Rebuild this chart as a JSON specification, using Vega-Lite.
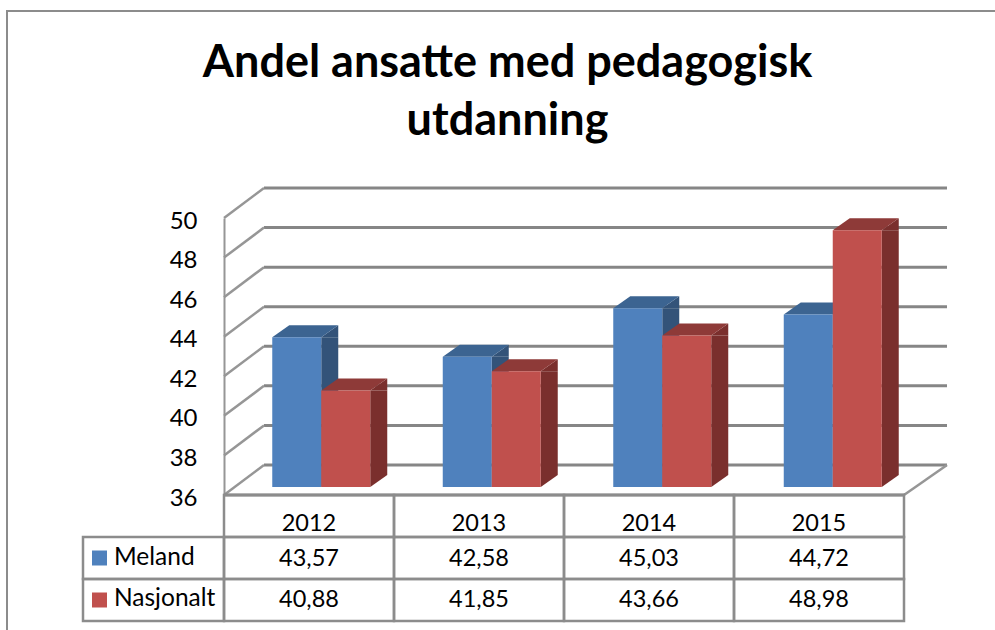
{
"$schema":"https://vega.github.io/schema/vega-lite/v6.json",
"width":995,"height":630,"padding":0,"autosize":{"type":"none"},
"background":"white",
"config":{"font":"Lato","view":{"stroke":null}},
"title":{"text":["Andel ansatte med pedagogisk","utdanning"],"font":"Lato","fontSize":45,"fontWeight":"bold","color":"black","anchor":"middle","dx":10,"offset":-180,"lineHeight":58,"baseline":"alphabetic"},
"datasets":{
"bars":[
{"year":"2012","series":"Meland","value":43.57},{"year":"2012","series":"Nasjonalt","value":40.88},
{"year":"2013","series":"Meland","value":42.58},{"year":"2013","series":"Nasjonalt","value":41.85},
{"year":"2014","series":"Meland","value":45.03},{"year":"2014","series":"Nasjonalt","value":43.66},
{"year":"2015","series":"Meland","value":44.72},{"year":"2015","series":"Nasjonalt","value":48.98}],
"ticks":[{"v":36},{"v":38},{"v":40},{"v":42},{"v":44},{"v":46},{"v":48},{"v":50}],
"cells":[
{"year":"2012","row":"Aar","label":"2012"},{"year":"2013","row":"Aar","label":"2013"},{"year":"2014","row":"Aar","label":"2014"},{"year":"2015","row":"Aar","label":"2015"},
{"year":"2012","row":"Meland","label":"43,57"},{"year":"2013","row":"Meland","label":"42,58"},{"year":"2014","row":"Meland","label":"45,03"},{"year":"2015","row":"Meland","label":"44,72"},
{"year":"2012","row":"Nasjonalt","label":"40,88"},{"year":"2013","row":"Nasjonalt","label":"41,85"},{"year":"2014","row":"Nasjonalt","label":"43,66"},{"year":"2015","row":"Nasjonalt","label":"48,98"}],
"rows":[{"row":"Meland"},{"row":"Nasjonalt"}],
"frame":[{"f":"ramme"}]
},
"layer":[
{"data":{"name":"frame"},"mark":{"type":"rect","fillOpacity":0,"stroke":"#8c8c8c","strokeWidth":2},
 "encoding":{"x":{"field":"f","type":"nominal","axis":null,"scale":{"type":"band","domain":["ramme"],"range":[7,1100],"paddingInner":0,"paddingOuter":0,"round":false}},
 "y":{"field":"f","type":"nominal","axis":null,"scale":{"type":"band","domain":["ramme"],"range":[11,700],"paddingInner":0,"paddingOuter":0,"round":false}}}},
{"data":{"name":"ticks"},"mark":{"type":"rule","color":"#868686","strokeWidth":3},
 "encoding":{"y":{"field":"v","type":"quantitative","axis":null,"scale":{"domain":[36,50],"range":[465,188],"nice":false,"zero":false}},
 "x":{"datum":0,"type":"quantitative","axis":null,"scale":{"domain":[0,1],"range":[264,947]}},"x2":{"datum":1}}},
{"data":{"name":"ticks"},"mark":{"type":"point","shape":"M0 0L40 -30","filled":false,"size":4,"opacity":1,"color":"#969696","strokeWidth":2.5},
 "encoding":{"y":{"field":"v","type":"quantitative","axis":null,"scale":{"domain":[36,50],"range":[495,218],"nice":false,"zero":false}},
 "x":{"datum":0,"type":"quantitative","axis":null,"scale":{"domain":[0,1],"range":[224,904]}}}},
{"data":{"name":"frame"},"mark":{"type":"point","shape":"M0 0L43 -30","filled":false,"size":4,"opacity":1,"color":"#969696","strokeWidth":2.5},
 "encoding":{"y":{"datum":36,"type":"quantitative","axis":null,"scale":{"domain":[36,50],"range":[495,218],"nice":false,"zero":false}},
 "x":{"datum":1,"type":"quantitative","axis":null,"scale":{"domain":[0,1],"range":[224,904]}}}},
{"data":{"name":"frame"},"mark":{"type":"rule","color":"#868686","strokeWidth":3},
 "encoding":{"y":{"datum":36,"type":"quantitative","axis":null,"scale":{"domain":[36,50],"range":[495,218],"nice":false,"zero":false}},
 "x":{"datum":0,"type":"quantitative","axis":null,"scale":{"domain":[0,1],"range":[224,905]}},"x2":{"datum":1}}},
{"data":{"name":"bars"},"mark":{"type":"bar","width":17,"y2Offset":-12,"opacity":1},
 "encoding":{"x":{"field":"year","type":"nominal","axis":null,"scale":{"type":"band","domain":["2012","2013","2014","2015"],"range":[236,918],"paddingInner":0,"paddingOuter":0,"round":false}},
 "xOffset":{"field":"series","type":"nominal","scale":{"domain":["Meland","Nasjonalt"],"range":[33,203.5],"paddingInner":0,"paddingOuter":0.74}},
 "y":{"field":"value","type":"quantitative","axis":null,"scale":{"domain":[36,50],"range":[487,210],"nice":false,"zero":false}},
 "y2":{"datum":36},
 "color":{"field":"series","type":"nominal","legend":null,"scale":{"domain":["Meland","Nasjonalt"],"range":["#335379","#7A2F2D"]}}}},
{"data":{"name":"bars"},"mark":{"type":"point","shape":"M24.5 0L41.5 0L41.5 -12Z","filled":true,"size":4,"opacity":1},
 "encoding":{"x":{"field":"year","type":"nominal","axis":null,"scale":{"type":"band","domain":["2012","2013","2014","2015"],"range":[236,918],"paddingInner":0,"paddingOuter":0,"round":false}},
 "xOffset":{"field":"series","type":"nominal","scale":{"type":"band","domain":["Meland","Nasjonalt"],"range":[0,170.5],"paddingInner":0,"paddingOuter":0.74}},
 "y":{"field":"value","type":"quantitative","axis":null,"scale":{"domain":[36,50],"range":[487,210],"nice":false,"zero":false}},
 "color":{"field":"series","type":"nominal","legend":null,"scale":{"domain":["Meland","Nasjonalt"],"range":["#335379","#7A2F2D"]}}}},
{"data":{"name":"bars"},"mark":{"type":"point","shape":"M24.5 -12L41.5 -12L24.5 0Z","filled":true,"size":4,"opacity":1},
 "encoding":{"x":{"field":"year","type":"nominal","axis":null,"scale":{"type":"band","domain":["2012","2013","2014","2015"],"range":[236,918],"paddingInner":0,"paddingOuter":0,"round":false}},
 "xOffset":{"field":"series","type":"nominal","scale":{"type":"band","domain":["Meland","Nasjonalt"],"range":[0,170.5],"paddingInner":0,"paddingOuter":0.74}},
 "y":{"datum":36,"type":"quantitative","axis":null,"scale":{"domain":[36,50],"range":[487,210],"nice":false,"zero":false}},
 "color":{"field":"series","type":"nominal","legend":null,"scale":{"domain":["Meland","Nasjonalt"],"range":["#335379","#7A2F2D"]}}}},
{"data":{"name":"bars"},"mark":{"type":"point","shape":"M-24.5 0L24.5 0L41.5 -12L-7.5 -12Z","filled":true,"size":4,"opacity":1},
 "encoding":{"x":{"field":"year","type":"nominal","axis":null,"scale":{"type":"band","domain":["2012","2013","2014","2015"],"range":[236,918],"paddingInner":0,"paddingOuter":0,"round":false}},
 "xOffset":{"field":"series","type":"nominal","scale":{"type":"band","domain":["Meland","Nasjonalt"],"range":[0,170.5],"paddingInner":0,"paddingOuter":0.74}},
 "y":{"field":"value","type":"quantitative","axis":null,"scale":{"domain":[36,50],"range":[487,210],"nice":false,"zero":false}},
 "color":{"field":"series","type":"nominal","legend":null,"scale":{"domain":["Meland","Nasjonalt"],"range":["#3C6491","#8E3A38"]}}}},
{"data":{"name":"bars"},"mark":{"type":"bar","opacity":1},
 "encoding":{"x":{"field":"year","type":"nominal","axis":null,"scale":{"type":"band","domain":["2012","2013","2014","2015"],"range":[236,918],"paddingInner":0,"paddingOuter":0,"round":false}},
 "xOffset":{"field":"series","type":"nominal","scale":{"domain":["Meland","Nasjonalt"],"range":[0,170.5],"paddingInner":0,"paddingOuter":0.74}},
 "y":{"field":"value","type":"quantitative","axis":null,"scale":{"domain":[36,50],"range":[487,210],"nice":false,"zero":false}},
 "y2":{"datum":36},
 "color":{"field":"series","type":"nominal","legend":null,"scale":{"domain":["Meland","Nasjonalt"],"range":["#4F81BD","#C0504D"]}}}},
{"data":{"name":"ticks"},"mark":{"type":"rule","opacity":0},
 "encoding":{"y":{"field":"v","type":"quantitative","scale":{"domain":[36,50],"range":[495,218],"nice":false,"zero":false},
 "axis":{"orient":"left","offset":-224,"title":null,"values":[36,38,40,42,44,46,48,50],"grid":false,"ticks":false,"domainColor":"#969696","domainWidth":2,"labelFont":"Lato","labelFontSize":24,"labelColor":"black","labelPadding":27,"labelOffset":3}}}},
{"data":{"name":"cells"},"mark":{"type":"rect","fillOpacity":0,"stroke":"#8c8c8c","strokeWidth":2.5},
 "encoding":{"x":{"field":"year","type":"nominal","axis":null,"scale":{"type":"band","domain":["2012","2013","2014","2015"],"range":[224,904],"paddingInner":0,"paddingOuter":0,"round":false}},
 "y":{"field":"row","type":"nominal","axis":null,"scale":{"type":"band","domain":["Aar","Meland","Nasjonalt"],"range":[495,621],"paddingInner":0,"paddingOuter":0,"round":false}}}},
{"data":{"name":"cells"},"transform":[{"filter":"datum.row === 'Aar'"}],"mark":{"type":"text","font":"Lato","fontSize":23.5,"color":"black"},
 "encoding":{"x":{"field":"year","type":"nominal","axis":null,"scale":{"type":"band","domain":["2012","2013","2014","2015"],"range":[224,904],"paddingInner":0,"paddingOuter":0,"round":false}},
 "y":{"field":"row","type":"nominal","axis":null,"scale":{"type":"band","domain":["Aar"],"range":[504,544],"paddingInner":0,"paddingOuter":0,"round":false}},
 "text":{"field":"label"}}},
{"data":{"name":"cells"},"transform":[{"filter":"datum.row !== 'Aar'"}],"mark":{"type":"text","font":"Lato","fontSize":23.5,"color":"black"},
 "encoding":{"x":{"field":"year","type":"nominal","axis":null,"scale":{"type":"band","domain":["2012","2013","2014","2015"],"range":[224,904],"paddingInner":0,"paddingOuter":0,"round":false}},
 "y":{"field":"row","type":"nominal","axis":null,"scale":{"type":"band","domain":["Meland","Nasjonalt"],"range":[538,620],"paddingInner":0,"paddingOuter":0,"round":false}},
 "text":{"field":"label"}}},
{"data":{"name":"rows"},"mark":{"type":"rect","fillOpacity":0,"stroke":"#8c8c8c","strokeWidth":2.5},
 "encoding":{"x":{"datum":"h","type":"nominal","axis":null,"scale":{"type":"band","domain":["h"],"range":[83,224],"paddingInner":0,"paddingOuter":0,"round":false}},
 "y":{"field":"row","type":"nominal","axis":null,"scale":{"type":"band","domain":["Meland","Nasjonalt"],"range":[537,621],"paddingInner":0,"paddingOuter":0,"round":false}}}},
{"data":{"name":"rows"},"mark":{"type":"point","shape":"square","filled":true,"size":225,"opacity":1},
 "encoding":{"x":{"datum":0,"type":"quantitative","axis":null,"scale":{"domain":[0,1],"range":[99.5,100]}},
 "y":{"field":"row","type":"nominal","axis":null,"scale":{"type":"band","domain":["Meland","Nasjonalt"],"range":[537,621],"paddingInner":0,"paddingOuter":0,"round":false}},
 "color":{"field":"row","type":"nominal","legend":null,"scale":{"domain":["Meland","Nasjonalt"],"range":["#4F81BD","#C0504D"]}}}},
{"data":{"name":"rows"},"mark":{"type":"text","font":"Lato","fontSize":24.5,"color":"black","align":"left"},
 "encoding":{"x":{"datum":0,"type":"quantitative","axis":null,"scale":{"domain":[0,1],"range":[114,115]}},
 "y":{"field":"row","type":"nominal","axis":null,"scale":{"type":"band","domain":["Meland","Nasjonalt"],"range":[537,620],"paddingInner":0,"paddingOuter":0,"round":false}},
 "text":{"field":"row"}}}
],
"resolve":{"scale":{"x":"independent","y":"independent","color":"independent","xOffset":"independent"}}
}
